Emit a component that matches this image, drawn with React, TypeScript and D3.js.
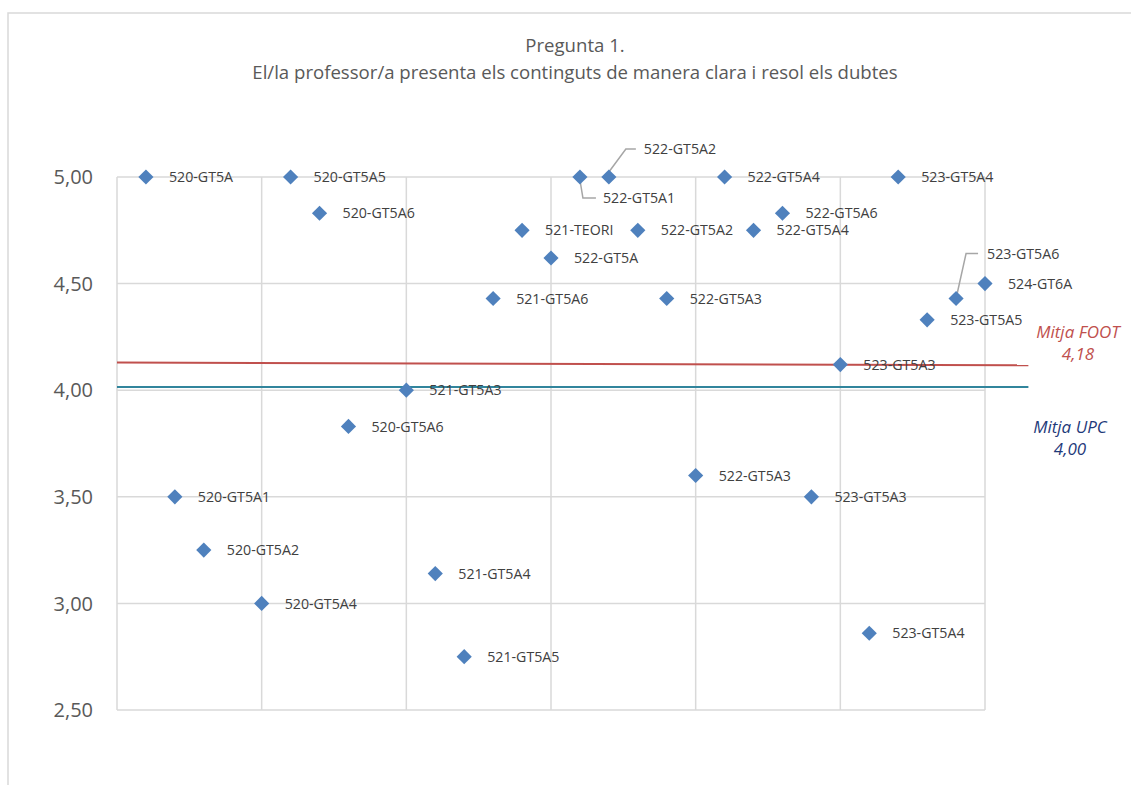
import React, { useRef, useEffect } from 'react';
import * as d3 from 'd3';

// Groups, their position along the x axis and their score
const groupNames = [
  '520-GT5A', '520-GT5A1', '520-GT5A2', '520-GT5A4', '520-GT5A5', '520-GT5A6', '520-GT5A6',
  '521-GT5A3', '521-GT5A4', '521-GT5A5', '521-GT5A6', '521-TEORI',
  '522-GT5A', '522-GT5A1', '522-GT5A2', '522-GT5A2', '522-GT5A3', '522-GT5A3', '522-GT5A4', '522-GT5A4', '522-GT5A6',
  '523-GT5A3', '523-GT5A3', '523-GT5A4', '523-GT5A4', '523-GT5A5', '523-GT5A6', '524-GT6A',
];
const groupIndex = [1, 2, 3, 5, 6, 7, 8, 10, 11, 12, 13, 14, 15, 16, 17, 18, 19, 20, 21, 22, 23, 24, 25, 26, 27, 28, 29, 30];
const groupScores = [
  5.0, 3.5, 3.25, 3.0, 5.0, 4.83, 3.83,
  4.0, 3.14, 2.75, 4.43, 4.75,
  4.62, 5.0, 5.0, 4.75, 4.43, 3.6, 5.0, 4.75, 4.83,
  3.5, 4.12, 2.86, 5.0, 4.33, 4.43, 4.5,
];

// Average lines (start / end points)
const footAvgX = [0, 31.5];
const footAvgY = [4.13, 4.117];
const upcAvgX = [0, 31.5];
const upcAvgY = [4.015, 4.015];

const yTicks = [2.5, 3.0, 3.5, 4.0, 4.5, 5.0];
const xTicks = [0, 5, 10, 15, 20, 25, 30];

const titleLines = ['Pregunta 1.', 'El/la professor/a presenta els continguts de manera clara i resol els dubtes'];

export default function App() {
  const svgRef = useRef<SVGSVGElement>(null);
  const width = 1131;
  const height = 785;
  const font = "'Open Sans', sans-serif";

  useEffect(() => {
    const svg = d3.select(svgRef.current);
    svg.selectAll('*').remove();

    const x = d3.scaleLinear().domain([0, 30]).range([117, 985]);
    const y = d3.scaleLinear().domain([2.5, 5]).range([710, 177]);

    // outer chart border
    svg.append('rect')
      .attr('x', 8).attr('y', 13)
      .attr('width', width).attr('height', height)
      .attr('fill', 'white')
      .attr('stroke', '#d9d9d9')
      .attr('stroke-width', 1.5);

    // title
    svg.append('g')
      .selectAll('text')
      .data(titleLines)
      .join('text')
      .attr('x', 575)
      .attr('y', (d, i) => 52 + i * 27)
      .attr('text-anchor', 'middle')
      .attr('font-family', font)
      .attr('font-size', 18.6)
      .attr('fill', '#595959')
      .text(d => d);

    // grid
    svg.append('g')
      .selectAll('line')
      .data(yTicks)
      .join('line')
      .attr('x1', x(0)).attr('x2', x(30))
      .attr('y1', d => y(d)).attr('y2', d => y(d))
      .attr('stroke', '#d9d9d9')
      .attr('stroke-width', 1.5);

    svg.append('g')
      .selectAll('line')
      .data(xTicks)
      .join('line')
      .attr('x1', d => x(d)).attr('x2', d => x(d))
      .attr('y1', y(5)).attr('y2', y(2.5))
      .attr('stroke', '#d9d9d9')
      .attr('stroke-width', 1.5);

    // y axis labels
    svg.append('g')
      .selectAll('text')
      .data(yTicks)
      .join('text')
      .attr('x', 93)
      .attr('y', d => y(d))
      .attr('dy', '0.36em')
      .attr('text-anchor', 'end')
      .attr('font-family', font)
      .attr('font-size', 20)
      .attr('fill', '#595959')
      .text(d => d3.format('.2f')(d).replace('.', ','));

    // average lines
    const line = d3.line<[number, number]>().x(d => x(d[0])).y(d => y(d[1]));
    svg.append('path')
      .datum(d3.zip(footAvgX, footAvgY) as [number, number][])
      .attr('fill', 'none')
      .attr('stroke', '#c0504d')
      .attr('stroke-width', 2)
      .attr('d', line);
    svg.append('path')
      .datum(d3.zip(upcAvgX, upcAvgY) as [number, number][])
      .attr('fill', 'none')
      .attr('stroke', '#31859c')
      .attr('stroke-width', 2)
      .attr('d', line);

    const points = groupNames.map((name, i) => ({ name, idx: groupIndex[i], v: groupScores[i], i }));

    // leader lines for the labels that were moved
    const leaders: Record<number, [number, number][]> = {
      13: [[0, 3], [3, 21], [16, 21]],
      14: [[0, -5], [17, -28], [27, -28]],
      26: [[0, 0], [10, -45], [22, -45]],
    };
    const labelShift: Record<number, [number, number]> = {
      13: [23, 21],
      14: [35, -28],
      26: [31, -45],
    };
    Object.entries(leaders).forEach(([k, pts]) => {
      const p = points[+k];
      svg.append('path')
        .attr('fill', 'none')
        .attr('stroke', '#a6a6a6')
        .attr('stroke-width', 1.5)
        .attr('d', d3.line()(pts.map(([dx, dy]) => [x(p.idx) + dx, y(p.v) + dy])));
    });

    // markers
    const diamond = d3.symbol().type(d3.symbolSquare).size(115);
    svg.append('g')
      .selectAll('path')
      .data(points)
      .join('path')
      .attr('d', diamond)
      .attr('transform', d => `translate(${x(d.idx)},${y(d.v)}) rotate(45)`)
      .attr('fill', '#4f81bd');

    // point labels
    svg.append('g')
      .selectAll('text')
      .data(points)
      .join('text')
      .attr('x', d => x(d.idx) + (labelShift[d.i] ? labelShift[d.i][0] : 23))
      .attr('y', d => y(d.v) + (labelShift[d.i] ? labelShift[d.i][1] : 0))
      .attr('dy', '0.36em')
      .attr('font-family', font)
      .attr('font-size', 14.2)
      .attr('fill', '#404040')
      .text(d => d.name);

    // average labels
    const avgLabels = [
      { lines: ['Mitja FOOT', '4,18'], color: '#c0504d', cx: 1078, top: 332 },
      { lines: ['Mitja UPC', '4,00'], color: '#1f3a7a', cx: 1070, top: 427 },
    ];
    avgLabels.forEach(a => {
      svg.append('g')
        .selectAll('text')
        .data(a.lines)
        .join('text')
        .attr('x', a.cx)
        .attr('y', (d, i) => a.top + i * 22)
        .attr('dy', '0.36em')
        .attr('text-anchor', 'middle')
        .attr('font-family', font)
        .attr('font-style', 'italic')
        .attr('font-size', 17)
        .attr('fill', a.color)
        .text(d => d);
    });
  }, []);

  return (
    <svg
      ref={svgRef}
      width={width}
      height={height}
      style={{ position: 'absolute', left: 0, top: 0, background: 'white' }}
    />
  );
}
